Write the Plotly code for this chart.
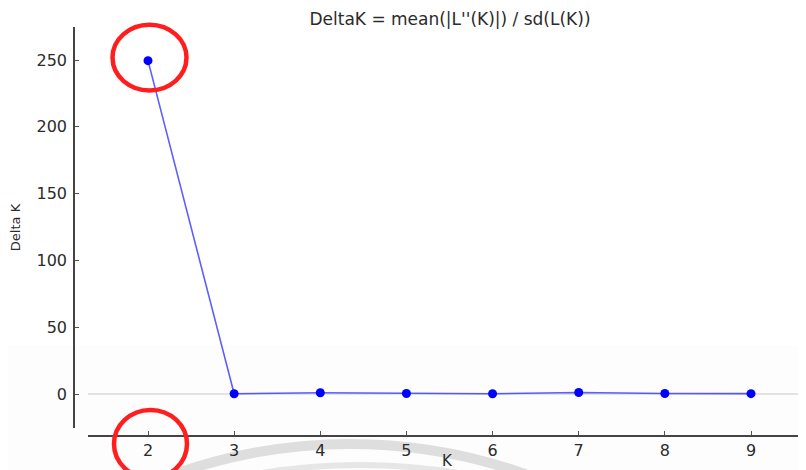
import plotly.graph_objects as go

# ---- data ----
k_values = [2, 3, 4, 5, 6, 7, 8, 9]
delta_k = [249.5, 0.2, 1.0, 0.4, 0.2, 1.2, 0.4, 0.3]
y_ticks = [0, 50, 100, 150, 200, 250]
x_ticks = [2, 3, 4, 5, 6, 7, 8, 9]

# page body has an 8px margin: figure pixel = screen pixel - 8
OFF = 8
W, H = 806 - OFF, 470 - OFF
MT = 27 - OFF          # top of plot area at screen y=27
AXIS_Y = 436 - OFF     # x-axis line at screen y=436
MB = H - AXIS_Y
PH = H - MT - MB


def px(sx):
    return (sx - OFF) / W


def py(sy):
    return (AXIS_Y - (sy - OFF)) / PH


font = "DejaVu Sans"
txt = "#2b2b2b"

fig = go.Figure()
fig.add_trace(go.Scatter(
    x=k_values, y=delta_k, mode="lines+markers",
    line=dict(color="rgba(40,40,255,0.75)", width=1.6),
    marker=dict(color="#0000ff", size=9),
    showlegend=False, cliponaxis=False,
))

shapes = [
    # faint lower background tint
    dict(type="rect", xref="paper", yref="paper", x0=px(0), x1=1, y0=py(480), y1=py(345),
         fillcolor="#fdfdfd", line=dict(width=0), layer="below"),
    # watermark arcs
    dict(type="circle", xref="paper", yref="paper",
         x0=px(350 - 525), x1=px(350 + 525), y0=py(444), y1=py(444 + 1050),
         line=dict(color="#dedede", width=10), layer="below"),
    dict(type="circle", xref="paper", yref="paper",
         x0=px(360 - 600), x1=px(360 + 600), y0=py(465), y1=py(465 + 1200),
         line=dict(color="#e6e6e6", width=6), layer="below"),
    # red highlight ellipses
    dict(type="circle", xref="paper", yref="paper",
         x0=px(112.5), x1=px(186.5), y0=py(24.7), y1=py(90.5),
         line=dict(color="#ff1e1e", width=4.5)),
    dict(type="circle", xref="paper", yref="paper",
         x0=px(114), x1=px(187), y0=py(410), y1=py(478),
         line=dict(color="#ff1e1e", width=4.5)),
]

fig.update_layout(
    width=W, height=H,
    margin=dict(l=0, r=0, t=MT, b=MB, autoexpand=False),
    paper_bgcolor="white", plot_bgcolor="rgba(0,0,0,0)",
    title=dict(text="DeltaK = mean(|L''(K)|) / sd(L(K))",
               x=px(450), xanchor="center", xref="paper",
               y=1 - (19 - OFF) / H, yanchor="middle", yref="container",
               automargin=False,
               font=dict(family=font, size=17, color=txt)),
    xaxis=dict(
        domain=[px(88), 1], range=[1.3035, 9.6385],
        anchor="free", position=0, automargin=False,
        tickmode="array", tickvals=x_ticks, ticktext=[str(v) for v in x_ticks],
        ticks="inside", ticklen=4, tickcolor="#555", tickwidth=1,
        showline=True, linecolor="#444", linewidth=1.5,
        showgrid=False, zeroline=False,
        tickfont=dict(family=font, size=16, color=txt),
        title=dict(text="K", font=dict(family=font, size=15, color=txt), standoff=0),
    ),
    yaxis=dict(
        domain=[py(428), 1], range=[-25.4, 274.7],
        anchor="free", position=px(74), automargin=False,
        tickmode="array", tickvals=y_ticks, ticktext=[str(v) for v in y_ticks],
        ticks="inside", ticklen=4, tickcolor="#555", tickwidth=1,
        showline=True, linecolor="#444", linewidth=1.5,
        showgrid=False, ticklabelstandoff=3,
        zeroline=True, zerolinecolor="#e3e3e3", zerolinewidth=1.5,
        tickfont=dict(family=font, size=16, color=txt),
        title=dict(text="Delta K", font=dict(family=font, size=13, color=txt), standoff=14),
    ),
    shapes=shapes,
)

fig.write_html("out.html")
